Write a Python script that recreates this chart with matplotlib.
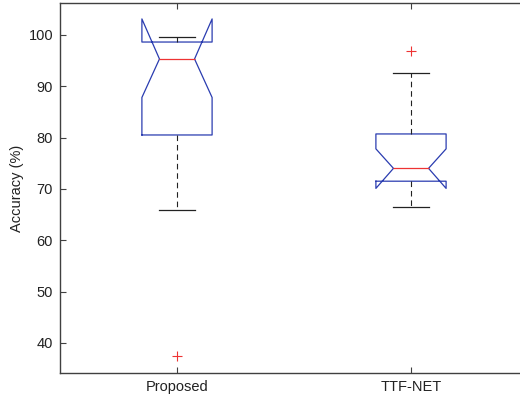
import matplotlib
matplotlib.use("Agg")
import matplotlib.pyplot as plt

plt.rcParams['font.family'] = ['Liberation Sans', 'DejaVu Sans']

# Box statistics per method (accuracy, %)
methods = ["Proposed", "TTF-NET"]
medians = [95.3, 74.0]
q1 = [80.5, 71.5]
q3 = [98.6, 80.7]
whisker_low = [65.9, 66.4]
whisker_high = [99.5, 92.6]
notch_low = [87.8, 70.1]
notch_high = [103.1, 77.8]
outliers = [[37.4], [96.9]]

stats = []
for i, name in enumerate(methods):
    stats.append(dict(label=name, med=medians[i], q1=q1[i], q3=q3[i],
                      whislo=whisker_low[i], whishi=whisker_high[i],
                      cilo=notch_low[i], cihi=notch_high[i],
                      fliers=outliers[i]))

fig = plt.figure(figsize=(5.2, 4.0), dpi=100)
ax = fig.add_axes([60 / 520, 27 / 400, 468 / 520, 370 / 400])

box_color = '#2a3cb0'
ax.bxp(stats, positions=[1, 2], widths=0.30, shownotches=True,
       boxprops=dict(color=box_color, linewidth=0.9),
       medianprops=dict(color='#ee3333', linewidth=0.9),
       whiskerprops=dict(color='#222222', linewidth=0.8, linestyle=(0, (5, 3.5))),
       capprops=dict(color='#222222', linewidth=0.9),
       flierprops=dict(marker='+', markeredgecolor='#ee3333', markersize=6.5,
                       markeredgewidth=0.8, linestyle='none'))

ax.set_xlim(0.5, 2.5)
ax.set_ylim(34.15, 106.2)
ax.set_yticks([40, 50, 60, 70, 80, 90, 100])
ax.set_ylabel("Accuracy (%)", fontsize=10.5, color='#222222', labelpad=3)

for s in ax.spines.values():
    s.set_color('#404040')
    s.set_linewidth(1.0)
ax.spines['right'].set_visible(False)
ax.tick_params(direction='in', length=4, width=0.8, color='#404040',
               labelsize=10.5, labelcolor='#222222', top=True, right=False, pad=5)

fig.savefig("out.png", dpi=100)
